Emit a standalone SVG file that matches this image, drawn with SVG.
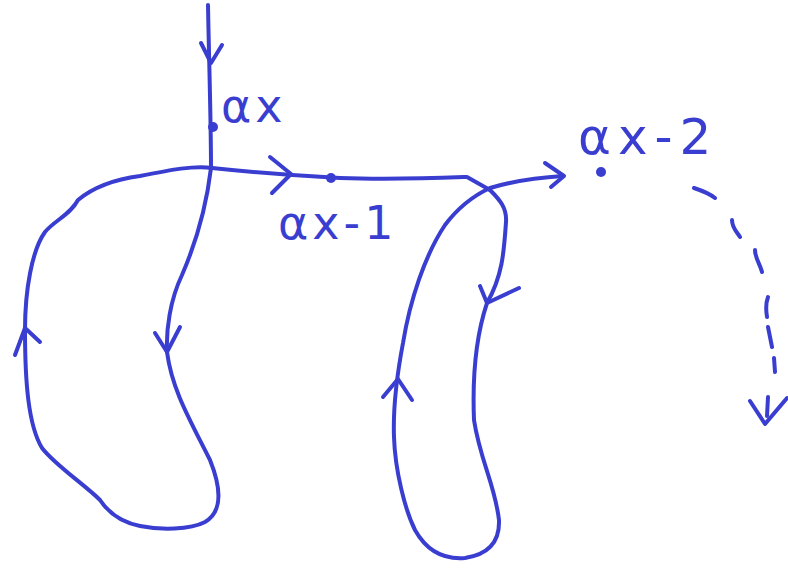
<svg xmlns="http://www.w3.org/2000/svg" width="788" height="568" viewBox="0 0 788 568">
<style>
.s{fill:none;stroke:#3a3ed0;stroke-width:4;stroke-linecap:round;stroke-linejoin:round}
.d{fill:#3a3ed0}
.t{fill:#3a3ed0;font-family:"DejaVu Sans","Liberation Sans",sans-serif;font-size:46px;letter-spacing:4px}
</style>
<rect width="788" height="568" fill="#ffffff"/>
<g id="connectors">
<path class="s" d="M208,5 C209,60 211,120 211,168"/>
<polyline class="s" points="201,43 211,63 222,45"/>
<path class="s" d="M211,168 C206,210 195,245 182,275 C170,300 166,330 167,352 C172,390 190,420 210,460 C222,490 222,512 205,522 C190,530 160,530 140,526 C120,522 108,512 100,500 C85,485 55,465 42,448 C28,425 25,380 25,330 C25,290 32,250 45,232 C55,220 70,215 78,200 C90,190 110,180 140,176 C170,170 195,165 212,168"/>
<polyline class="s" points="155,333 167,352 180,327"/>
<polyline class="s" points="15,355 25,328 40,342"/>
<path class="s" d="M212,168 C250,172 300,176 340,178 C390,180 440,178 467,177 L490,190"/>
<polyline class="s" points="270,157 291,174 272,193"/>
<path class="s" d="M490,190 C500,200 507,208 506,222 C504,250 503,275 487,303 C478,330 472,370 474,420 C480,460 495,485 499,520 C500,545 485,555 465,558 C440,560 425,548 415,530 C405,510 395,470 394,437 C393,410 396,380 403,343 C410,300 425,255 445,225 C460,205 475,195 490,188 C510,182 530,178 563,176"/>
<polyline class="s" points="480,286 487,303 519,288"/>
<polyline class="s" points="383,397 398,379 412,400"/>
<polyline class="s" points="545,163 564,176 551,187"/>
<path class="s" d="M694,188 C703,191 710,194 715,198 M732,220 C732,228 737,232 740,237 M755,250 C755,258 760,264 762,272 M768,297 C765,305 766,311 767,317 M768,327 L772,347 M774,358 L775,372 M768,397 L767,416"/>
<polyline class="s" points="750,401 765,424 787,398"/>
</g>
<g id="node-ax">
<circle class="d" cx="213" cy="127" r="5"/>
<text class="t" x="221" y="122">αx</text>
</g>
<g id="node-ax-1">
<circle class="d" cx="331" cy="178" r="5"/>
<text class="t" x="278" y="239">αx-1</text>
</g>
<g id="node-ax-2">
<circle class="d" cx="601" cy="172" r="5"/>
<text class="t" x="578" y="154" style="font-size:50px;letter-spacing:7px">αx-2</text>
</g>
</svg>
